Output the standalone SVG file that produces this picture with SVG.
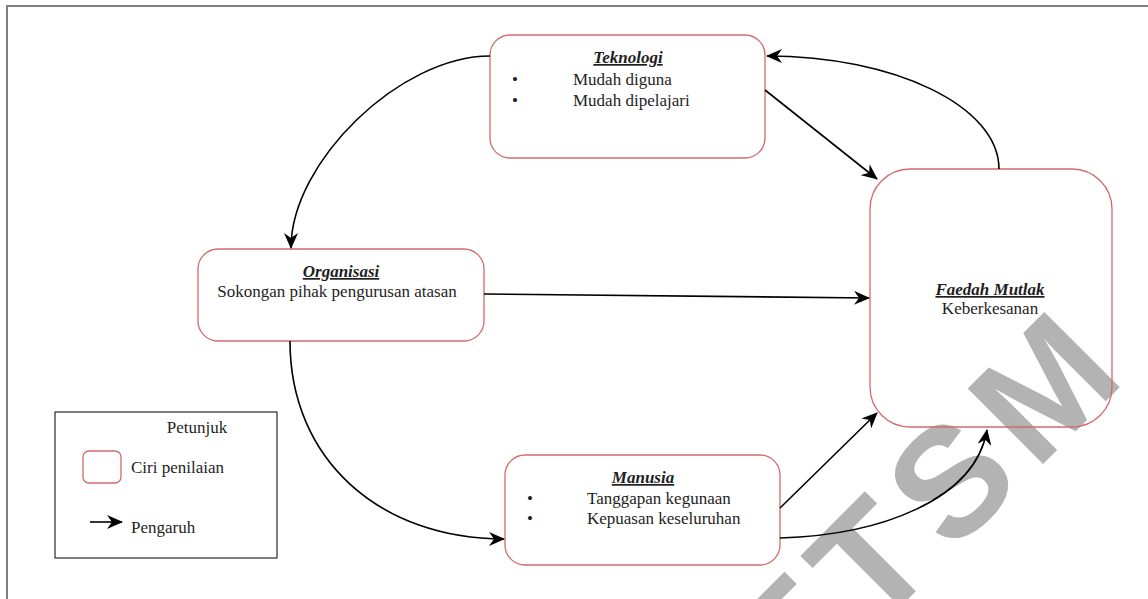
<svg xmlns="http://www.w3.org/2000/svg" width="1148" height="599" viewBox="0 0 1148 599">
  <defs>
    <marker id="arr" markerUnits="userSpaceOnUse" markerWidth="16" markerHeight="14" refX="15" refY="7" orient="auto">
      <path d="M0,0 L16,7 L0,14 L5,7 Z" fill="#000"/>
    </marker>
    <style>
      .node { fill: none; stroke: #d26a6c; stroke-width: 1.3; }
      .t { font-family: "Liberation Serif", "Times New Roman", serif; font-size: 17px; fill: #1e1e1e; }
      .title { font-weight: bold; font-style: italic; text-decoration: underline; text-anchor: middle; }
      .c { text-anchor: middle; }
      .conn path, .conn line { fill: none; stroke: #000; stroke-width: 1.6; marker-end: url(#arr); }
      .wm { font-family: "Liberation Sans", Arial, sans-serif; font-size: 155px; font-weight: bold; letter-spacing: 15px; fill: #b3b3b3; }
    </style>
  </defs>
  <rect width="1148" height="599" fill="#fff"/>
  <rect x="7" y="6" width="1160" height="620" fill="none" stroke="#7f7f7f" stroke-width="2"/>

  <text class="wm" transform="translate(797,710) rotate(-45)" x="0" y="0">FTSM</text>

  <g id="teknologi">
    <rect class="node" x="490" y="35" width="275" height="123" rx="20"/>
    <text class="t title" x="628" y="63">Teknologi</text>
    <text class="t" x="512" y="85">•</text>
    <text class="t" x="573" y="85">Mudah diguna</text>
    <text class="t" x="512" y="106">•</text>
    <text class="t" x="573" y="106">Mudah dipelajari</text>
  </g>

  <g id="organisasi">
    <rect class="node" x="198" y="249" width="286" height="92" rx="20"/>
    <text class="t title" x="341" y="277">Organisasi</text>
    <text class="t c" x="337" y="297">Sokongan pihak pengurusan atasan</text>
  </g>

  <g id="faedah">
    <rect class="node" x="870" y="169" width="242" height="258" rx="40"/>
    <text class="t title" x="990" y="295">Faedah Mutlak</text>
    <text class="t c" x="990" y="314">Keberkesanan</text>
  </g>

  <g id="manusia">
    <rect class="node" x="505" y="455" width="275" height="110" rx="20"/>
    <text class="t title" x="643" y="483">Manusia</text>
    <text class="t" x="527" y="504">•</text>
    <text class="t" x="587" y="504">Tanggapan kegunaan</text>
    <text class="t" x="527" y="524">•</text>
    <text class="t" x="587" y="524">Kepuasan keseluruhan</text>
  </g>

  <g id="legend">
    <rect x="55" y="412" width="222" height="146" fill="none" stroke="#000" stroke-width="1"/>
    <text class="t c" x="197" y="433">Petunjuk</text>
    <rect class="node" x="83" y="451" width="38" height="32" rx="6"/>
    <text class="t" x="131" y="473">Ciri penilaian</text>
    <line x1="90" y1="522" x2="122" y2="522" stroke="#000" stroke-width="1.6" marker-end="url(#arr)"/>
    <text class="t" x="131" y="533">Pengaruh</text>
  </g>

  <g id="connectors" class="conn">
    <path d="M490,56 C400,56 291,162 291,248"/>
    <path d="M999,169 C999,106 894,56 767,56"/>
    <line x1="765" y1="90" x2="877" y2="179"/>
    <line x1="484" y1="294" x2="869" y2="298"/>
    <path d="M290,341 C290,460 380,539 504,539"/>
    <line x1="780" y1="508" x2="877" y2="413"/>
    <path d="M780,538 C880,535 975,500 987,430"/>
  </g>
</svg>
